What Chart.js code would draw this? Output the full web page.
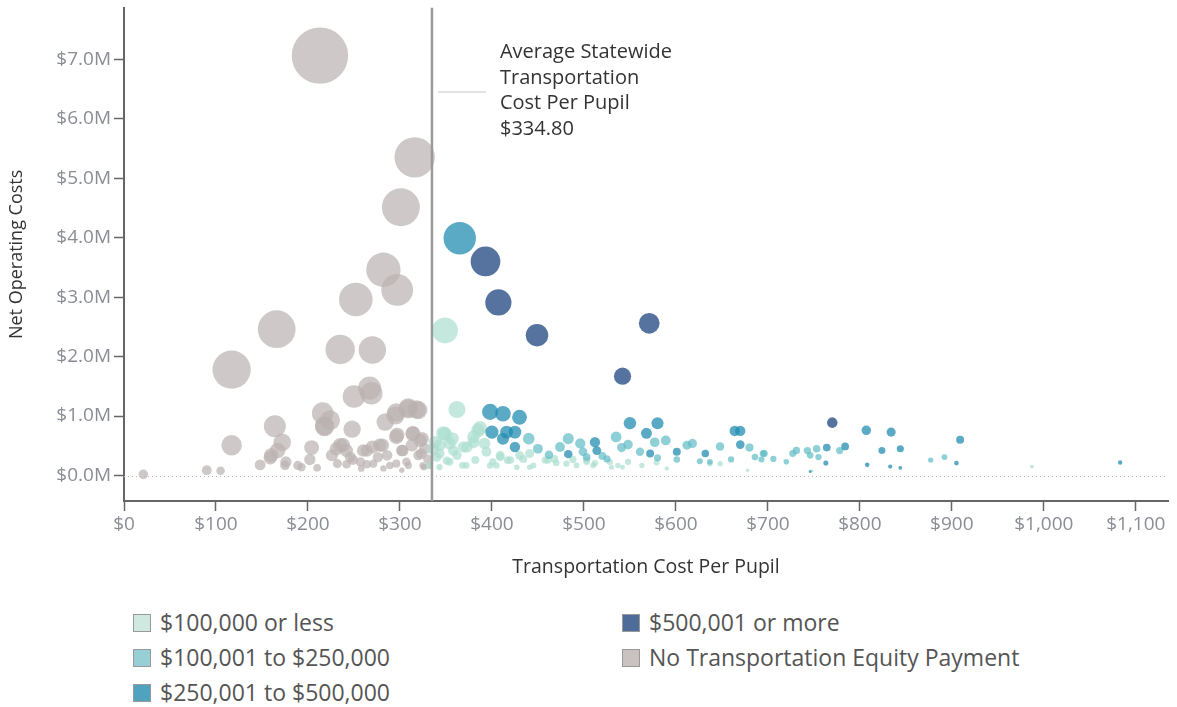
<!DOCTYPE html>
<html>
<head>
<meta charset="utf-8">
<title>Transportation Cost Per Pupil</title>
<script src="https://cdn.jsdelivr.net/npm/chart.js@4.4.1/dist/chart.umd.min.js"></script>
<style>
  body { margin: 0; background: #fff; }
  #wrap { position: relative; width: 1177px; height: 707px; font-family: 'Open Sans', sans-serif; }
  #chartBox { position: absolute; left: 0; top: 0; width: 1177px; height: 600px; }
  .lg { position: absolute; height: 26px; line-height: 26px; font-size: 23px; color: #555; white-space: nowrap; }
  .lg i { position: absolute; left: 0; top: 3px; width: 16px; height: 16px; border: 1px solid #999; }
  .lg span { position: absolute; left: 27px; top: -2px; }
</style>
</head>
<body>
<div id="wrap">
  <div id="chartBox"><canvas id="scatter"></canvas></div>
  <div id="legend"></div>
</div>
<script>
/* -----------------------------
   Data (cost per pupil in $, net operating costs in $M)
------------------------------ */
const categories = [
  '$100,000 or less',
  '$100,001 to $250,000',
  '$250,001 to $500,000',
  '$500,001 or more',
  'No Transportation Equity Payment'
];

const xTicks = [0, 100, 200, 300, 400, 500, 600, 700, 800, 900, 1000, 1100];
const yTicks = [0, 1, 2, 3, 4, 5, 6, 7];
const statewideAverage = 334.80;

// $100,000 or less
const lowCost = [349, 362, 349, 338, 343, 358, 369, 385, 380, 392, 354, 343, 372, 398, 409, 417, 430, 441, 441, 458,
  468, 481, 492, 503, 510, 530, 542, 563, 590, 332, 347, 354, 343, 340, 351, 362, 373, 380, 387, 368,
  382, 394, 401, 409, 420, 434, 445, 461, 470, 488, 503, 512, 528, 537, 548, 405, 427, 987, 637, 648,
  678, 748, 579, 336, 357];
const lowNet = [2.44, 1.11, 0.70, 0.56, 0.37, 0.42, 0.48, 0.76, 0.56, 0.54, 0.23, 0.14, 0.17, 0.17, 0.31, 0.26, 0.34, 0.37, 0.14, 0.26,
  0.28, 0.20, 0.17, 0.26, 0.17, 0.14, 0.14, 0.17, 0.12, 0.17, 0.71, 0.54, 0.51, 0.31, 0.25, 0.34, 0.48, 0.65, 0.80, 0.17,
  0.26, 0.40, 0.23, 0.34, 0.26, 0.28, 0.17, 0.26, 0.21, 0.27, 0.23, 0.21, 0.23, 0.17, 0.23, 0.17, 0.14, 0.15, 0.20, 0.20,
  0.09, 0.08, 0.22, 0.44, 0.62];

// $100,001 to $250,000
const midCost = [450, 483, 474, 496, 499, 503, 535, 541, 548, 577, 589, 561, 580, 601, 612, 618, 626, 648, 637, 660,
  680, 686, 695, 706, 753, 743, 731, 727, 746, 755, 778, 696, 693, 720, 877, 892, 440, 525, 462, 520];
const midNet = [0.45, 0.62, 0.48, 0.54, 0.40, 0.31, 0.65, 0.47, 0.52, 0.56, 0.59, 0.40, 0.30, 0.27, 0.51, 0.54, 0.24, 0.49, 0.23, 0.27,
  0.47, 0.31, 0.37, 0.28, 0.45, 0.42, 0.42, 0.37, 0.34, 0.31, 0.42, 0.37, 0.27, 0.23, 0.26, 0.31, 0.62, 0.28, 0.35, 0.33];

// $250,001 to $500,000
const highCost = [365, 398, 412, 430, 400, 416, 425, 412, 425, 512, 514, 483, 550, 568, 580, 572, 601, 632, 664, 670,
  670, 807, 834, 909, 824, 844, 764, 784, 763, 808, 833, 844, 1083, 746, 905];
const highNet = [3.99, 1.07, 1.04, 0.98, 0.73, 0.73, 0.73, 0.62, 0.48, 0.56, 0.42, 0.36, 0.88, 0.71, 0.88, 0.37, 0.40, 0.37, 0.75, 0.75,
  0.52, 0.76, 0.73, 0.60, 0.42, 0.45, 0.47, 0.49, 0.21, 0.18, 0.15, 0.13, 0.22, 0.07, 0.21];

// $500,001 or more
const topCost = [393, 407, 449, 571, 542, 770];
const topNet = [3.60, 2.91, 2.36, 2.56, 1.67, 0.89];

// No Transportation Equity Payment
const noneCost = [213, 316, 301, 282, 297, 252, 166, 235, 270, 117, 267, 250, 216, 218, 224, 248, 164, 117, 21, 90,
  105, 148, 159, 172, 167, 175, 189, 193, 204, 202, 210, 226, 235, 242, 232, 242, 249, 260, 264, 270,
  281, 284, 296, 297, 309, 318, 314, 276, 289, 302, 307, 322, 323, 326, 332, 176, 218, 231, 160, 269,
  295, 309, 320, 296, 314, 324, 264, 278, 238, 286, 303, 313, 320, 327, 257, 271, 296, 309, 325, 330,
  246, 258, 282, 302];
const noneNet = [7.06, 5.35, 4.51, 3.46, 3.12, 2.96, 2.46, 2.12, 2.11, 1.78, 1.47, 1.33, 1.05, 0.82, 0.93, 0.78, 0.83, 0.51, 0.02, 0.09,
  0.08, 0.18, 0.30, 0.56, 0.42, 0.17, 0.17, 0.14, 0.47, 0.27, 0.13, 0.34, 0.51, 0.42, 0.20, 0.19, 0.26, 0.42, 0.19, 0.48,
  0.51, 0.90, 1.06, 0.68, 1.14, 1.11, 0.71, 0.31, 0.17, 0.42, 0.23, 0.59, 0.37, 0.14, 0.17, 0.23, 0.84, 0.45, 0.34, 1.38,
  1.01, 1.12, 1.10, 0.65, 0.70, 0.62, 0.42, 0.51, 0.51, 0.34, 0.42, 0.51, 0.34, 0.45, 0.23, 0.20, 0.20, 0.17, 0.17, 0.28,
  0.31, 0.12, 0.12, 0.09];

/* -----------------------------
   Styles
------------------------------ */
const swatches = ['#cfe9e1', '#96d0d6', '#4fa3bf', '#4d6d98', '#c9c2c1'];
const fills = [
  'rgba(171,222,208,0.7)',
  'rgba(95,186,196,0.7)',
  'rgba(35,142,178,0.75)',
  'rgba(44,80,135,0.8)',
  'rgba(186,176,176,0.7)'
];
const FONT = "'Open Sans', sans-serif";

// bubble area follows pupils (net cost / cost per pupil)
function pupilRadius(cost, netM) {
  return 0.155 * Math.sqrt(netM * 1e6 / cost);
}

function toPoints(xs, ys) {
  return xs.map((x, i) => ({ x: x, y: ys[i], r: pupilRadius(x, ys[i]) }));
}

const seriesX = [lowCost, midCost, highCost, topCost, noneCost];
const seriesY = [lowNet, midNet, highNet, topNet, noneNet];
const drawOrder = [3, 2, 1, 0, 4]; // gray at the back

/* -----------------------------
   Plugins: zero line, average line + label
------------------------------ */
const zeroLine = {
  id: 'zeroLine',
  beforeDatasetsDraw(chart) {
    const { ctx, chartArea, scales } = chart;
    const y = Math.round(scales.y.getPixelForValue(0)) + 0.5;
    ctx.save();
    ctx.strokeStyle = '#b5b5b5';
    ctx.lineWidth = 1;
    ctx.setLineDash([1, 3]);
    ctx.beginPath();
    ctx.moveTo(chartArea.left, y);
    ctx.lineTo(chartArea.right, y);
    ctx.stroke();
    ctx.restore();
  }
};

const averageLine = {
  id: 'averageLine',
  afterDatasetsDraw(chart) {
    const { ctx, chartArea, scales } = chart;
    const x = scales.x.getPixelForValue(statewideAverage);
    ctx.save();
    ctx.strokeStyle = '#9a9a9a';
    ctx.lineWidth = 2.5;
    ctx.beginPath();
    ctx.moveTo(x, chartArea.top);
    ctx.lineTo(x, chartArea.bottom);
    ctx.stroke();

    // legend stub + label
    const yStub = scales.y.getPixelForValue(6.45);
    ctx.strokeStyle = '#e2e2e2';
    ctx.lineWidth = 2;
    ctx.beginPath();
    ctx.moveTo(x + 6, yStub);
    ctx.lineTo(x + 54, yStub);
    ctx.stroke();

    ctx.fillStyle = '#333';
    ctx.font = '20px ' + FONT;
    ctx.textBaseline = 'middle';
    const lines = ['Average Statewide', 'Transportation', 'Cost Per Pupil', '$' + statewideAverage.toFixed(2)];
    lines.forEach((t, i) => ctx.fillText(t, x + 68, chartArea.top + 45 + i * 25.5));
    ctx.restore();
  }
};

/* -----------------------------
   Chart
------------------------------ */
new Chart(document.getElementById('scatter'), {
  type: 'bubble',
  data: {
    datasets: categories.map((name, i) => ({
      label: name,
      data: toPoints(seriesX[i], seriesY[i]),
      backgroundColor: fills[i],
      borderWidth: 0,
      hoverBorderWidth: 0,
      order: drawOrder[i]
    }))
  },
  options: {
    responsive: true,
    maintainAspectRatio: false,
    animation: false,
    events: [],
    layout: { autoPadding: false, padding: { top: 7, right: 9, left: 0, bottom: 0 } },
    plugins: {
      legend: { display: false },
      tooltip: { enabled: false }
    },
    scales: {
      x: {
        type: 'linear',
        min: 0,
        max: 1135,
        afterBuildTicks: s => { s.ticks = xTicks.map(v => ({ value: v })); },
        afterFit: s => { s.height = 99; },
        ticks: {
          color: '#8a8d94',
          font: { family: FONT, size: 19 },
          padding: 2,
          maxRotation: 0,
          callback: v => '$' + v.toLocaleString('en-US')
        },
        grid: { drawOnChartArea: false, drawTicks: true, tickLength: 10, tickColor: '#666', tickWidth: 1.5 },
        border: { display: true, color: '#666', width: 2 },
        title: {
          display: true,
          text: 'Transportation Cost Per Pupil',
          color: '#333',
          font: { family: FONT, size: 19.5 },
          padding: { top: 0, bottom: 21 }
        }
      },
      y: {
        type: 'linear',
        min: -0.428,
        max: 7.865,
        afterBuildTicks: s => { s.ticks = yTicks.map(v => ({ value: v })); },
        afterFit: s => { s.width = 124; },
        ticks: {
          color: '#8a8d94',
          font: { family: FONT, size: 19, lineHeight: 0.5 },
          padding: 3,
          callback: v => '$' + v.toFixed(1) + 'M'
        },
        grid: { drawOnChartArea: false, drawTicks: true, tickLength: 10, tickColor: '#666', tickWidth: 1.5 },
        border: { display: true, color: '#666', width: 2 },
        title: {
          display: true,
          text: 'Net Operating Costs',
          color: '#333',
          font: { family: FONT, size: 18 },
          padding: { top: 6, bottom: 0 }
        }
      }
    }
  },
  plugins: [zeroLine, averageLine]
});

/* -----------------------------
   HTML legend (two columns)
------------------------------ */
const legendSpots = [[133, 611], [133, 646], [133, 681], [622, 611], [622, 646]];
document.getElementById('legend').innerHTML = categories.map((name, i) => `
  <div class="lg" style="left:${legendSpots[i][0]}px;top:${legendSpots[i][1]}px">
    <i style="background:${swatches[i]}"></i><span>${name}</span>
  </div>`).join('');
</script>
</body>
</html>
